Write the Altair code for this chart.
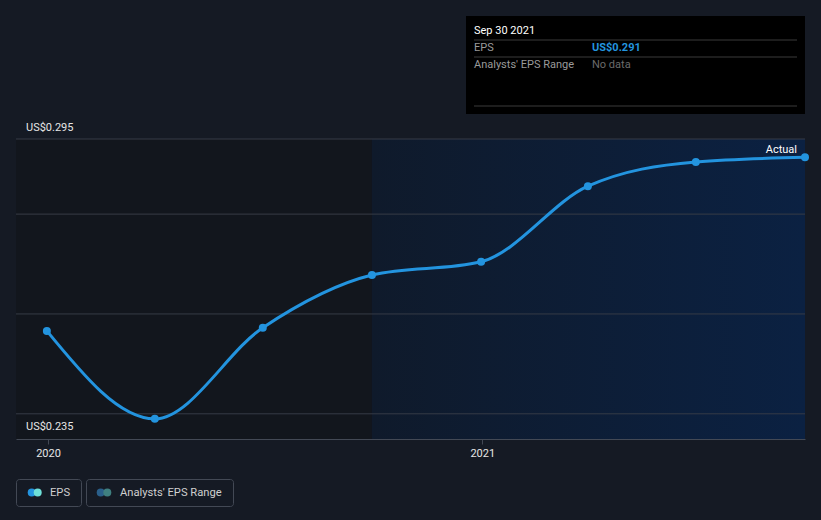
import altair as alt
import pandas as pd

# ---------------- data ----------------
dates = ["2019-12-31", "2020-03-31", "2020-06-30", "2020-09-30",
         "2020-12-31", "2021-03-31", "2021-06-30", "2021-09-30"]
eps = [0.2531, 0.2339, 0.2538, 0.2653, 0.2682, 0.2847, 0.2900, 0.2910]

grid_values = [0.295, 0.2786, 0.2568, 0.235]
y_label_values = [0.295, 0.235]
y_label_texts = ["US$0.295", "US$0.235"]
x_tick_dates = ["2020-01-01", "2021-01-01"]
x_domain_dates = ["2019-12-05", "2021-09-30"]
y_domain = [0.2295, 0.295]
highlight_start = "2020-09-30"

tooltip_date = "Sep 30 2021"
tooltip_rows = ["EPS", "Analysts' EPS Range"]
tooltip_vals = ["US$0.291", "No data"]
legend_labels = ["EPS", "Analysts' EPS Range"]


def ms(d):
    return int(pd.Timestamp(d, tz="UTC").value // 10**6)


FONT = "Roboto"
BG = "#151a24"
BLUE = "#2394df"

x_scale = alt.Scale(type="utc", domain=[ms(d) for d in x_domain_dates])
y_scale = alt.Scale(domain=y_domain, zero=False, nice=False)
x_axis = alt.Axis(values=[ms(d) for d in x_tick_dates], format="%Y",
                  grid=False, domainColor="#434955", tickColor="#434955",
                  tickSize=5, labelColor="#e6e6e6", labelFont=FONT,
                  labelFontSize=11, labelPadding=3, zindex=1, title=None)


def X(field):
    return alt.X(field, scale=x_scale, axis=x_axis, title=None)


def Y(field):
    return alt.Y(field, scale=y_scale, axis=None)


df = pd.DataFrame({"date": dates, "eps": eps})
one = pd.DataFrame({"k": [0]})

# ---------------- background regions ----------------
regions = pd.DataFrame({
    "start": [ms(x_domain_dates[0]), ms(highlight_start)],
    "end": [ms(highlight_start), ms(x_domain_dates[1])],
    "top": [y_domain[1], y_domain[1]],
    "bottom": [y_domain[0], y_domain[0]],
})

left_rect = alt.Chart(regions.iloc[[0]]).mark_rect(color="#12161d").encode(
    x=X("start:T"), x2="end:T", y=Y("top:Q"), y2="bottom:Q",
)

right_rect = alt.Chart(regions.iloc[[1]]).mark_rect(
    color=alt.Gradient(
        gradient="linear",
        stops=[alt.GradientStop(color="#0f1a2b", offset=0),
               alt.GradientStop(color="#0b2142", offset=1)],
        x1=0, x2=1, y1=0, y2=0,
    )
).encode(x=X("start:T"), x2="end:T", y=Y("top:Q"), y2="bottom:Q")

grid = alt.Chart(pd.DataFrame({"g": grid_values})).mark_rule(
    color="#363b46", strokeWidth=1
).encode(y=Y("g:Q"))

# ---------------- line + points ----------------
line = alt.Chart(df).mark_line(
    color=BLUE, strokeWidth=3, interpolate="monotone"
).encode(x=X("date:T"), y=Y("eps:Q"))

points = alt.Chart(df).mark_circle(color=BLUE, size=64, opacity=1).encode(
    x=X("date:T"), y=Y("eps:Q"))

actual = alt.Chart(df.iloc[[-1]]).mark_text(
    text="Actual", align="right", baseline="middle", dx=-8, dy=-7,
    color="#ffffff", font=FONT, fontSize=11,
).encode(x=X("date:T"), y=Y("eps:Q"))

ylab_df = pd.DataFrame({"v": y_label_values, "t": y_label_texts})
ylabel_top = alt.Chart(ylab_df.iloc[[0]]).mark_text(
    align="left", baseline="middle", color="#e6e6e6", font=FONT, fontSize=11,
    dy=-11
).encode(x=alt.value(10), y=Y("v:Q"), text="t:N")
ylabel_bot = alt.Chart(ylab_df.iloc[[1]]).mark_text(
    align="left", baseline="middle", color="#e6e6e6", font=FONT, fontSize=11,
    dy=13
).encode(x=alt.value(10), y=Y("v:Q"), text="t:N")


# ---------------- tooltip box / legend (annotation) ----------------
def box(x, x2, y, y2, fill=None, stroke=None, radius=0):
    kw = {}
    if fill is not None:
        kw["fill"] = fill
    else:
        kw["fillOpacity"] = 0
    if stroke is not None:
        kw["stroke"] = stroke
        kw["strokeWidth"] = 1
    if radius:
        kw["cornerRadius"] = radius
    return alt.Chart(one).mark_rect(**kw).encode(
        x=alt.value(x), x2=alt.value(x2), y=alt.value(y), y2=alt.value(y2))


def hline(x, x2, y, color):
    return alt.Chart(one).mark_rule(color=color, strokeWidth=1).encode(
        x=alt.value(x), x2=alt.value(x2), y=alt.value(y))


def label(txt, x, y, color, size=11, weight="normal"):
    return alt.Chart(one).mark_text(
        text=txt, align="left", baseline="middle", color=color,
        font=FONT, fontSize=size, fontWeight=weight
    ).encode(x=alt.value(x), y=alt.value(y))


def dot(x, y, color, size=64):
    return alt.Chart(one).mark_point(
        filled=True, shape="circle", size=size, color=color, opacity=1
    ).encode(x=alt.value(x), y=alt.value(y))


tooltip = [
    box(450, 789, -123, -25, fill="#000000"),
    label(tooltip_date, 458, -108, "#ffffff"),
    hline(458, 781, -99, "#3a3a3a"),
    label(tooltip_rows[0], 458, -91, "#9a9a9a"),
    label(tooltip_vals[0], 576, -91, BLUE, weight="bold"),
    hline(458, 781, -82, "#3a3a3a"),
    label(tooltip_rows[1], 458, -74, "#9a9a9a"),
    label(tooltip_vals[1], 576, -74, "#6b6b6b"),
    hline(458, 781, -33, "#3a3a3a"),
]

legend = [
    box(0.5, 65.5, 340.5, 367.5, stroke="#434955", radius=3),
    box(70.5, 217.5, 340.5, 367.5, stroke="#434955", radius=3),
    dot(15.7, 353.5, "#2394df"),
    dot(21.7, 353.5, "#6ee0d8"),
    label(legend_labels[0], 34, 353.5, "#cfcfcf", size=11.2),
    dot(84.7, 353.5, "#2a5f8a"),
    dot(91.3, 353.5, "#3f8080"),
    label(legend_labels[1], 104, 353.5, "#cfcfcf", size=11.2),
]

chart = alt.layer(
    left_rect, right_rect, grid, line, points, actual, ylabel_top, ylabel_bot,
    *tooltip, *legend
).properties(
    width=789, height=300,
    autosize=alt.AutoSizeParams(type="none"),
    padding={"left": 16, "top": 139, "right": 16, "bottom": 81},
    background=BG,
).configure_view(stroke=None)

chart.save("out.html", embed_options={"renderer": "svg", "actions": False})
